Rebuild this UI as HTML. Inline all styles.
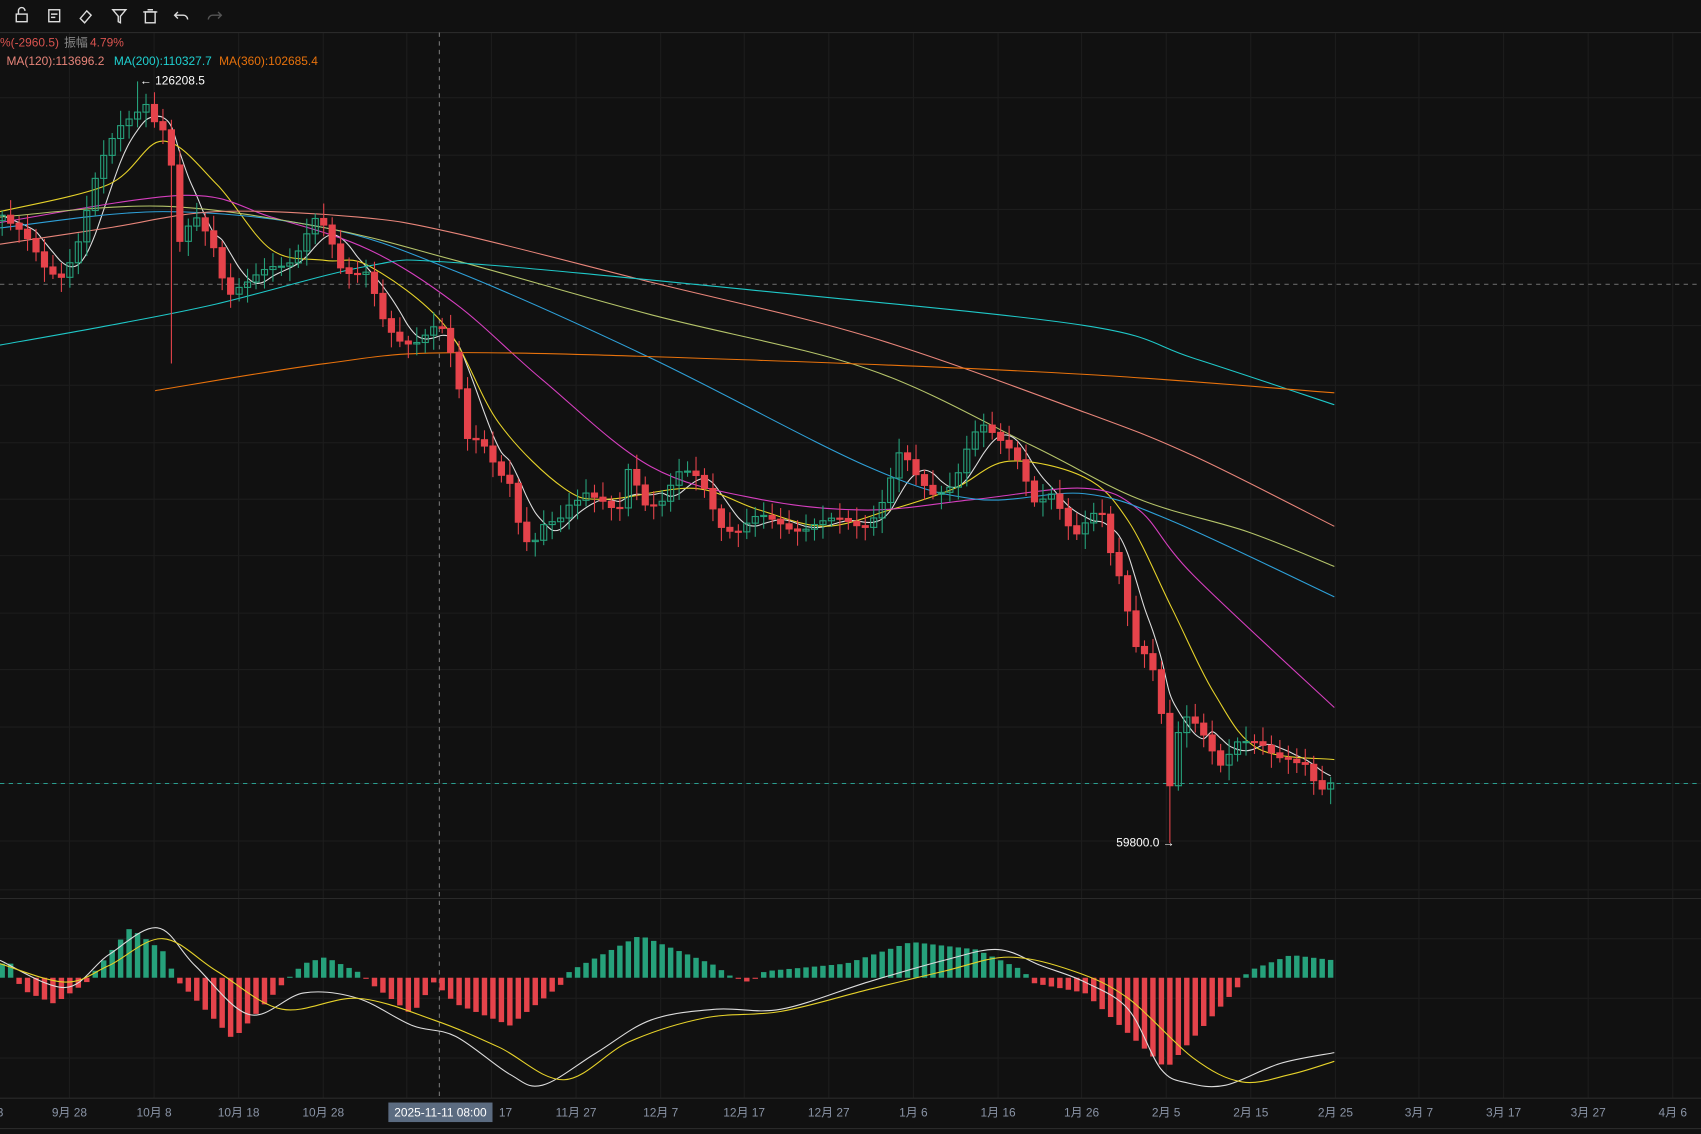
<!DOCTYPE html>
<html><head><meta charset="utf-8"><style>
html,body{margin:0;padding:0;background:#111111;overflow:hidden}
svg{display:block}
text{font-family:"Liberation Sans","Noto Sans CJK SC",sans-serif}
</style></head><body>
<svg id="s" width="1701" height="1134" viewBox="0 0 1568 1045" preserveAspectRatio="none" xmlns="http://www.w3.org/2000/svg">
<rect width="1568" height="1045" fill="#111111"/>
<g id="grid" stroke="#1d1d1d" stroke-width="1"></g>
<line x1="0" y1="30" x2="1568" y2="30" stroke="#2a2a2a"/>
<line x1="0" y1="828" x2="1568" y2="828" stroke="#2a2a2a"/>
<line x1="0" y1="1012" x2="1568" y2="1012" stroke="#2a2a2a"/>
<line x1="0" y1="1040" x2="1568" y2="1040" stroke="#2a2a2a"/>
<line x1="0" y1="262" x2="1568" y2="262" stroke="#666" stroke-dasharray="4,4"/>
<line x1="0" y1="722" x2="1568" y2="722" stroke="#2a9d8f" stroke-dasharray="4,4"/>
<line x1="405" y1="30" x2="405" y2="1012" stroke="#777" stroke-dasharray="4,4"/>
<g id="ma" fill="none" stroke-width="1"></g>
<g id="c"></g>
<g id="h"></g>
<g id="m" fill="none" stroke-width="1"></g>
<g stroke="#ddd" fill="none" stroke-width="1.3">
<rect x="15" y="13" width="10" height="7"/><path d="M17 13v-3a3 3 0 0 1 6 0"/>
<rect x="45" y="9" width="10" height="11"/><path d="M47 13h6M47 16h4"/>
<path d="M74 17l6-7 4 4-6 7z"/>
<path d="M104 9h12l-5 6v6l-2-1v-5z"/>
<rect x="134" y="11" width="9" height="10"/><path d="M132 11h13M136 9h5"/>
<path d="M164 11l-3 3 3 3M161 14h8a4 4 0 0 1 4 4"/>
<path d="M201 11l3 3-3 3M204 14h-8a4 4 0 0 0-4 4" stroke="#555"/>
</g>
<text x="0" y="43" font-size="11" fill="#d9534f">%(-2960.5)</text>
<text x="59" y="43" font-size="11" fill="#888">振幅</text>
<text x="83" y="43" font-size="11" fill="#d9534f">4.79%</text>
<text x="6" y="60" font-size="11" fill="#e8857a">MA(120):113696.2</text>
<text x="105" y="60" font-size="11" fill="#1fd1d1">MA(200):110327.7</text>
<text x="202" y="60" font-size="11" fill="#e8720c">MA(360):102685.4</text>
<text x="129" y="78" font-size="11" fill="#fff">← 126208.5</text>
<text x="1029" y="780" font-size="11" fill="#fff">59800.0 →</text>
<g id="ax" font-size="11" fill="#8a94a6" text-anchor="middle"></g>
<rect x="358" y="1016" width="96" height="18" fill="#5b6b80"/>
<text x="406" y="1029" font-size="11" fill="#fff" text-anchor="middle">2025-11-11 08:00</text>
</svg>
<script>
const NS="http://www.w3.org/2000/svg";
function el(p,t,a){const e=document.createElementNS(NS,t);for(const k in a)e.setAttribute(k,a[k]);document.getElementById(p).appendChild(e);return e;}
function interp(pts,x){for(let i=1;i<pts.length;i++){if(x<=pts[i][0]){const a=pts[i-1],b=pts[i];return a[1]+(b[1]-a[1])*(x-a[0])/(b[0]-a[0]);}}return pts[pts.length-1][1];}
function pl(p,P,col,w){let d="M"+P[0][0]+","+P[0][1];for(let i=0;i<P.length-1;i++){const p0=P[Math.max(0,i-1)],p1=P[i],p2=P[i+1],p3=P[Math.min(P.length-1,i+2)];
const c1=[p1[0]+(p2[0]-p0[0])/6,p1[1]+(p2[1]-p0[1])/6],c2=[p2[0]-(p3[0]-p1[0])/6,p2[1]-(p3[1]-p1[1])/6];d+=" C"+c1+" "+c2+" "+p2;}
el(p,"path",{d:d,stroke:col,"stroke-width":w||1});}
for(let y of [90,143,193,243,300,355,408,460,512,565,617,670,722,775,820,865,920,975])el("grid","line",{x1:0,y1:y,x2:1568,y2:y});
for(let x of [64,142,220,298,375,453,531,609,686,764,842,920,997,1075,1153,1231,1308,1386,1464,1542])el("grid","line",{x1:x,y1:30,x2:x,y2:1012});
const labs=[[0,"3"],[64,"9月 28"],[142,"10月 8"],[220,"10月 18"],[298,"10月 28"],[466,"17"],[531,"11月 27"],[609,"12月 7"],[686,"12月 17"],[764,"12月 27"],[842,"1月 6"],[920,"1月 16"],[997,"1月 26"],[1075,"2月 5"],[1153,"2月 15"],[1231,"2月 25"],[1308,"3月 7"],[1386,"3月 17"],[1464,"3月 27"],[1542,"4月 6"]];
labs.forEach(l=>{const t=el("ax","text",{x:l[0],y:1029});t.textContent=l[1];});
const K=[[0,190],[20,215],[40,250],[55,255],[70,225],[90,160],[110,120],[125,100],[135,90],[145,115],[155,125],[165,230],[180,200],[195,215],[210,270],[230,265],[250,245],[270,235],[290,205],[300,215],[315,250],[340,245],[350,290],[365,320],[380,320],[395,300],[405,290],[420,340],[430,410],[445,410],[460,430],[470,440],[480,490],[490,510],[500,490],[515,480],[525,460],[540,450],[560,470],[570,480],[580,430],[595,460],[610,460],[625,440],[640,440],[650,450],[665,480],[680,490],[700,480],[720,480],[740,485],[760,485],[780,480],[800,480],[815,460],[830,420],[845,440],[860,450],[880,445],[895,410],[905,395],[920,400],[935,410],[945,440],[955,470],[970,460],[990,490],[1005,470],[1015,470],[1025,520],[1035,545],[1045,595],[1060,600],[1070,640],[1075,745],[1085,680],[1095,665],[1110,680],[1125,700],[1140,680],[1160,690],[1175,700],[1190,695],[1205,700],[1215,730],[1222,730],[1230,725]];
const dx=7.8;let xs=[],cl=[];
for(let x=2;x<=1230;x+=dx){xs.push(x);cl.push(interp(K,x)+Math.sin(x*0.9)*6);}
let prev=cl[0]+5;
for(let i=0;i<xs.length;i++){const o=prev,c=cl[i];const up=c<o;const col=up?"#26a17b":"#e5434b";
const hi=Math.min(o,c)-4-Math.abs(Math.sin(i*1.7))*10,lo=Math.max(o,c)+4+Math.abs(Math.cos(i*1.3))*10;
let H=hi,L=lo;if(Math.abs(xs[i]-127)<4)H=75;if(Math.abs(xs[i]-1080)<4)L=777;if(Math.abs(xs[i]-158)<4)L=335;
el("c","line",{x1:xs[i],y1:H,x2:xs[i],y2:L,stroke:col});
el("c","rect",{x:xs[i]-2.8,y:Math.min(o,c),width:5.6,height:Math.max(1,Math.abs(o-c)),fill:up?"none":col,stroke:col,"stroke-width":1});
prev=c;}
let w=[];for(let i=0;i<cl.length;i++){let s=0,n=0;for(let j=Math.max(0,i-4);j<=i;j++){s+=cl[j];n++;}w.push([xs[i],s/n]);}
pl("ma",w,"#ddd");
pl("ma",[[0,195],[100,170],[150,130],[200,170],[250,230],[300,240],[340,245],[410,300],[460,390],[520,450],[560,460],[640,450],[700,470],[760,485],[820,470],[880,450],[930,425],[1000,440],[1040,480],[1080,560],[1120,640],[1160,690],[1230,700]],"#e6d22a");
pl("ma",[[0,205],[170,180],[250,200],[340,230],[420,280],[500,350],[600,430],[700,460],[800,470],[900,460],[1000,450],[1050,470],[1100,530],[1230,652]],"#d63fbf");
pl("ma",[[0,210],[150,195],[300,210],[420,250],[600,330],[800,430],[900,460],[1000,455],[1080,480],[1230,550]],"#2ea0d8");
pl("ma",[[0,200],[150,190],[300,210],[420,240],[600,290],[800,340],[950,410],[1050,460],[1150,490],[1230,522]],"#b5c46a");
pl("ma",[[0,225],[100,210],[200,195],[330,200],[420,215],[600,260],[800,310],[1000,380],[1100,420],[1230,485]],"#e8857a");
pl("ma",[[0,318],[100,300],[200,280],[340,245],[420,242],[700,268],[1000,300],[1100,330],[1230,373]],"#1fc8c8");
pl("ma",[[143,360],[300,335],[420,325],[700,332],[1000,345],[1230,362]],"#e8720c");
const HK=[[0,888],[10,888],[15,901],[20,912],[50,925],[80,905],[85,898],[120,855],[155,880],[160,901],[170,910],[215,958],[262,905],[280,888],[300,882],[335,898],[340,905],[380,935],[400,905],[420,925],[470,945],[520,905],[525,895],[590,862],[660,890],[670,898],[690,905],[700,899],[705,895],[780,888],[840,868],[900,875],[945,895],[948,905],[1000,915],[1075,985],[1145,905],[1150,895],[1190,880],[1230,885]];
for(let x=2;x<=1230;x+=dx){const y=interp(HK,x);const up=y<901;el("h","rect",{x:x-2.5,y:Math.min(y,901),width:5,height:Math.max(1,Math.abs(y-901)),fill:up?"#26a17b":"#e5434b"});}
pl("m",[[0,885],[60,910],[100,880],[145,855],[180,890],[230,935],[280,915],[330,920],[380,945],[420,955],[470,990],[500,1000],[550,970],[600,940],[660,930],[720,930],[800,905],[870,885],[920,875],[960,890],[1000,905],[1040,930],[1070,985],[1095,998],[1130,1000],[1180,980],[1230,970]],"#ddd");
pl("m",[[0,888],[60,905],[100,890],[150,865],[200,895],[260,930],[330,920],[400,940],[460,965],[520,995],[580,960],[650,938],[720,932],[800,912],[870,895],[930,882],[990,895],[1040,920],[1100,975],[1145,997],[1190,990],[1230,978]],"#e6d22a");
</script>
</body></html>
